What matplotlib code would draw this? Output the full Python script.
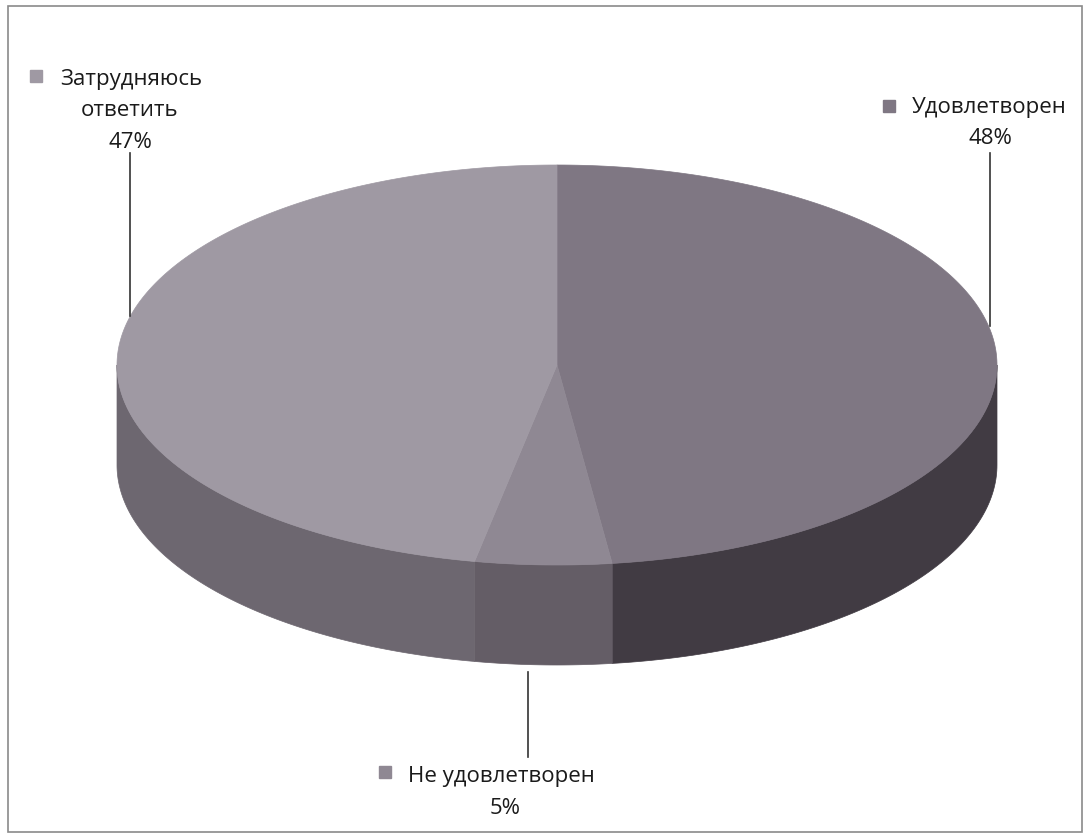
import numpy as np
import matplotlib
matplotlib.use("Agg")
import matplotlib.pyplot as plt
from matplotlib.patches import Polygon, Rectangle

plt.rcParams['font.family'] = ['Open Sans', 'DejaVu Sans']

# Данные диаграммы
categories = ["Удовлетворен", "Не удовлетворен", "Затрудняюсь ответить"]
values = [48, 5, 47]
top_colors = ["#7f7783", "#8f8893", "#9f99a3"]
side_colors = ["#413b43", "#645d66", "#6d6770"]

fig = plt.figure(figsize=(10.9, 8.38), dpi=100, facecolor='white')
ax = fig.add_axes([0, 0, 1, 1])
ax.set_xlim(0, 1090)
ax.set_ylim(838, 0)
ax.axis('off')

# Рамка
ax.add_patch(Rectangle((8, 6), 1074, 826, fill=False, edgecolor='#8a8a8a', linewidth=1.2))

# Геометрия "3D" пирога (в пикселях)
cx, cy, rx, ry, depth = 557, 365, 440, 200, 100


def point(theta):
    # theta в градусах, по часовой стрелке от 12 часов
    t = np.radians(theta)
    return cx + rx * np.sin(t), cy - ry * np.cos(t)


bounds = np.concatenate([[0], np.cumsum(values)]) / np.sum(values) * 360.0

# Боковые стенки (видимая передняя часть: 90..270 градусов)
for i in range(len(values)):
    a0, a1 = max(bounds[i], 90), min(bounds[i + 1], 270)
    if a1 <= a0:
        continue
    th = np.linspace(a0, a1, 100)
    x, y = point(th)
    verts = np.column_stack([np.concatenate([x, x[::-1]]),
                             np.concatenate([y, y[::-1] + depth])])
    ax.add_patch(Polygon(verts, closed=True, facecolor=side_colors[i],
                         edgecolor=side_colors[i], linewidth=0.5, zorder=2))

# Верхняя поверхность
for i in range(len(values)):
    th = np.linspace(bounds[i], bounds[i + 1], 200)
    x, y = point(th)
    verts = np.column_stack([np.concatenate([[cx], x]), np.concatenate([[cy], y])])
    ax.add_patch(Polygon(verts, closed=True, facecolor=top_colors[i],
                         edgecolor=top_colors[i], linewidth=0.5, zorder=3))

# Подписи с выносками
label_fs = 16
txt_color = '#1a1a1a'
marker_kw = dict(marker='s', markersize=8, linestyle='none')

# Удовлетворен
ax.plot([990, 990], [153, 326], color='#333333', linewidth=1.2, zorder=4)
ax.plot([889], [106], color=top_colors[0], **marker_kw)
ax.text(912, 107, categories[0], fontsize=label_fs, ha='left', va='center', color=txt_color)
ax.text(990, 139, f"{values[0]}%", fontsize=label_fs, ha='center', va='center', color=txt_color)

# Затрудняюсь ответить
first, second = categories[2].split(" ")
ax.plot([130, 130], [153, 316], color='#333333', linewidth=1.2, zorder=4)
ax.plot([36], [76], color=top_colors[2], **marker_kw)
ax.text(131, 79, first, fontsize=label_fs, ha='center', va='center', color=txt_color)
ax.text(130, 111, second, fontsize=label_fs, ha='center', va='center', color=txt_color)
ax.text(130, 142, f"{values[2]}%", fontsize=label_fs, ha='center', va='center', color=txt_color)

# Не удовлетворен
ax.plot([528, 528], [672, 757], color='#333333', linewidth=1.2, zorder=4)
ax.plot([385], [772], color=top_colors[1], **marker_kw)
ax.text(408, 776, categories[1], fontsize=label_fs, ha='left', va='center', color=txt_color)
ax.text(505, 808, f"{values[1]}%", fontsize=label_fs, ha='center', va='center', color=txt_color)

fig.savefig("out.png", dpi=100, facecolor='white')
plt.close(fig)
